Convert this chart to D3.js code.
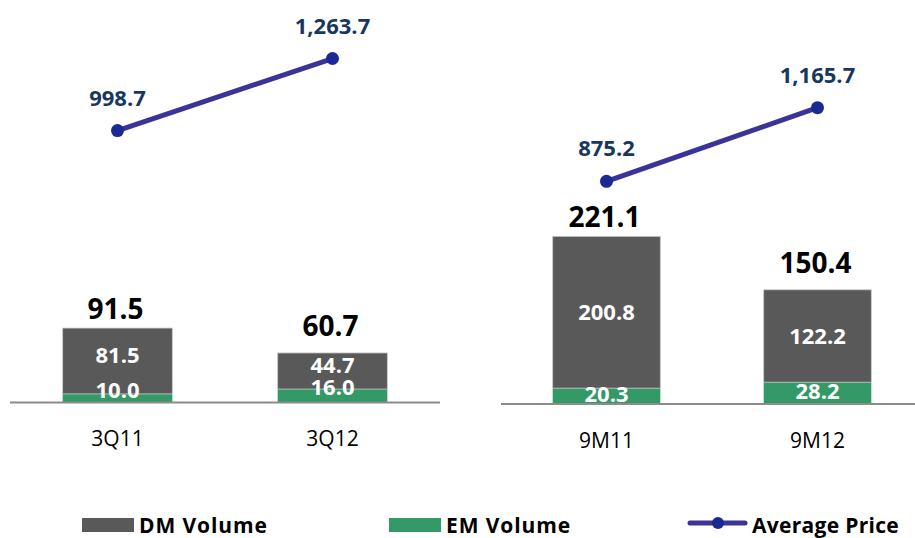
<!DOCTYPE html>
<html>
<head>
<meta charset="utf-8">
<script src="https://cdn.jsdelivr.net/npm/d3@7"></script>
<style>
  html, body { margin: 0; padding: 0; background: #ffffff; }
  svg { display: block; font-family: "Open Sans", "Lato", sans-serif; }
</style>
</head>
<body>
<svg id="chart" width="915" height="538"></svg>
<script>
// ---- data ----
const quarterCategories = ["3Q11", "3Q12"];
const quarterDM = [81.5, 44.7];
const quarterEM = [10.0, 16.0];
const quarterTotal = [91.5, 60.7];
const quarterPrice = [998.7, 1263.7];

const ytdCategories = ["9M11", "9M12"];
const ytdDM = [200.8, 122.2];
const ytdEM = [20.3, 28.2];
const ytdTotal = [221.1, 150.4];
const ytdPrice = [875.2, 1165.7];

const legendLabels = ["DM Volume", "EM Volume", "Average Price"];

// ---- styles ----
const DM_COLOR = "#595959";
const EM_COLOR = "#339966";
const LINE_COLOR = "#3a3399";
const MARKER_COLOR = "#1a2a94";
const PRICE_LABEL_COLOR = "#17375e";
const AXIS_COLOR = "#8c8c8c";

const svg = d3.select("#chart");
const fmt1 = d3.format(",.1f");

function drawPanel(cfg) {
  const g = svg.append("g");
  const x = d3.scaleBand()
    .domain(cfg.categories)
    .range(cfg.xRange)
    .paddingInner(0.49)
    .paddingOuter(0.245);
  const yBar = d3.scaleLinear().domain([0, 100]).range([cfg.base, cfg.base - cfg.barPx * 100]);
  const yPrice = d3.scaleLinear().domain([0, 1000]).range([cfg.base, cfg.base - cfg.pricePx * 1000]);

  const rows = cfg.categories.map((c, i) => ({
    cat: c, dm: cfg.dm[i], em: cfg.em[i], total: cfg.total[i], price: cfg.price[i], i
  }));

  // EM segments
  g.selectAll("rect.em").data(rows).join("rect")
    .attr("class", "em")
    .attr("x", d => x(d.cat))
    .attr("width", x.bandwidth())
    .attr("y", d => yBar(d.em))
    .attr("height", d => yBar(0) - yBar(d.em))
    .attr("fill", EM_COLOR);

  // DM segments
  g.selectAll("rect.dm").data(rows).join("rect")
    .attr("class", "dm")
    .attr("x", d => x(d.cat))
    .attr("width", x.bandwidth())
    .attr("y", d => yBar(d.em + d.dm))
    .attr("height", d => yBar(d.em) - yBar(d.em + d.dm))
    .attr("fill", DM_COLOR)
    .attr("stroke", "#c8c8c8")
    .attr("stroke-width", 0.8);

  // axis line
  g.append("line")
    .attr("x1", cfg.axisX[0]).attr("x2", cfg.axisX[1])
    .attr("y1", cfg.base + 0.5).attr("y2", cfg.base + 0.5)
    .attr("stroke", AXIS_COLOR).attr("stroke-width", 2);

  // category labels via axis
  const axis = d3.axisBottom(x).tickSize(0).tickPadding(0);
  const ax = g.append("g").attr("transform", `translate(0,${cfg.base})`).call(axis);
  ax.select(".domain").remove();
  ax.selectAll("text")
    .attr("y", 0).attr("dy", 0)
    .attr("transform", "translate(0,44)")
    .attr("font-size", 21)
    .attr("font-family", "'Open Sans', sans-serif")
    .attr("fill", "#000");

  // inner DM labels
  g.selectAll("text.dmlab").data(rows).join("text")
    .attr("class", "dmlab")
    .attr("x", d => x(d.cat) + x.bandwidth() / 2)
    .attr("y", d => (yBar(d.em) + yBar(d.em + d.dm)) / 2 + cfg.innerShift)
    .attr("dy", "0.35em")
    .attr("text-anchor", "middle")
    .attr("font-size", 22).attr("font-weight", 700)
    .attr("fill", "#ffffff")
    .text(d => fmt1(d.dm));

  // inner EM labels
  g.selectAll("text.emlab").data(rows).join("text")
    .attr("class", "emlab")
    .attr("x", d => x(d.cat) + x.bandwidth() / 2)
    .attr("y", d => (yBar(0) + yBar(d.em)) / 2 + cfg.innerShift - 2)
    .attr("dy", "0.35em")
    .attr("text-anchor", "middle")
    .attr("font-size", 22).attr("font-weight", 700)
    .attr("fill", "#ffffff")
    .text(d => fmt1(d.em));

  // totals
  g.selectAll("text.total").data(rows).join("text")
    .attr("class", "total")
    .attr("x", d => x(d.cat) + x.bandwidth() / 2 - 2)
    .attr("y", d => yBar(d.total) - (d.i === 0 ? 9 : 17))
    .attr("text-anchor", "middle")
    .attr("font-size", 28).attr("font-weight", 700)
    .attr("fill", "#000")
    .text(d => fmt1(d.total));

  // price line
  const line = d3.line()
    .x(d => x(d.cat) + x.bandwidth() / 2)
    .y(d => yPrice(d.price));
  g.append("path").datum(rows)
    .attr("d", line)
    .attr("fill", "none")
    .attr("stroke", LINE_COLOR)
    .attr("stroke-width", 5)
    .attr("stroke-linecap", "round");

  g.selectAll("circle.pt").data(rows).join("circle")
    .attr("class", "pt")
    .attr("cx", d => x(d.cat) + x.bandwidth() / 2)
    .attr("cy", d => yPrice(d.price))
    .attr("r", 6.5)
    .attr("fill", MARKER_COLOR);

  g.selectAll("text.price").data(rows).join("text")
    .attr("class", "price")
    .attr("x", d => x(d.cat) + x.bandwidth() / 2)
    .attr("y", d => yPrice(d.price) - 25)
    .attr("text-anchor", "middle")
    .attr("font-size", 22).attr("font-weight", 700)
    .attr("fill", PRICE_LABEL_COLOR)
    .text(d => fmt1(d.price));
}

drawPanel({
  categories: quarterCategories, dm: quarterDM, em: quarterEM, total: quarterTotal, price: quarterPrice,
  xRange: [10, 440], axisX: [10, 440], base: 402, barPx: 0.808, pricePx: 0.2718, innerShift: -6
});
drawPanel({
  categories: ytdCategories, dm: ytdDM, em: ytdEM, total: ytdTotal, price: ytdPrice,
  xRange: [501, 923], axisX: [501, 915], base: 403.5, barPx: 0.756, pricePx: 0.2538, innerShift: 0
});

// ---- legend ----
const leg = svg.append("g");
const legendItems = [
  { label: legendLabels[0], type: "rect", color: DM_COLOR, x: 82 },
  { label: legendLabels[1], type: "rect", color: EM_COLOR, x: 389 },
  { label: legendLabels[2], type: "line", color: LINE_COLOR, x: 690 }
];
const legY = 525;
legendItems.forEach(it => {
  if (it.type === "rect") {
    leg.append("rect").attr("x", it.x).attr("y", legY - 7).attr("width", 52).attr("height", 14).attr("fill", it.color);
    leg.append("text").attr("x", it.x + 57).attr("y", legY).attr("dy", "0.36em")
      .attr("font-size", 21).attr("font-weight", 700).attr("letter-spacing", 0.9)
      .attr("fill", "#000").text(it.label);
  } else {
    leg.append("line").attr("x1", it.x).attr("x2", it.x + 55).attr("y1", legY - 2).attr("y2", legY - 2)
      .attr("stroke", it.color).attr("stroke-width", 5).attr("stroke-linecap", "round");
    leg.append("circle").attr("cx", it.x + 28).attr("cy", legY - 2).attr("r", 6).attr("fill", MARKER_COLOR);
    leg.append("text").attr("x", it.x + 62).attr("y", legY).attr("dy", "0.36em")
      .attr("font-size", 21).attr("font-weight", 700).attr("letter-spacing", 0.3)
      .attr("fill", "#000").text(it.label);
  }
});
</script>
</body>
</html>
